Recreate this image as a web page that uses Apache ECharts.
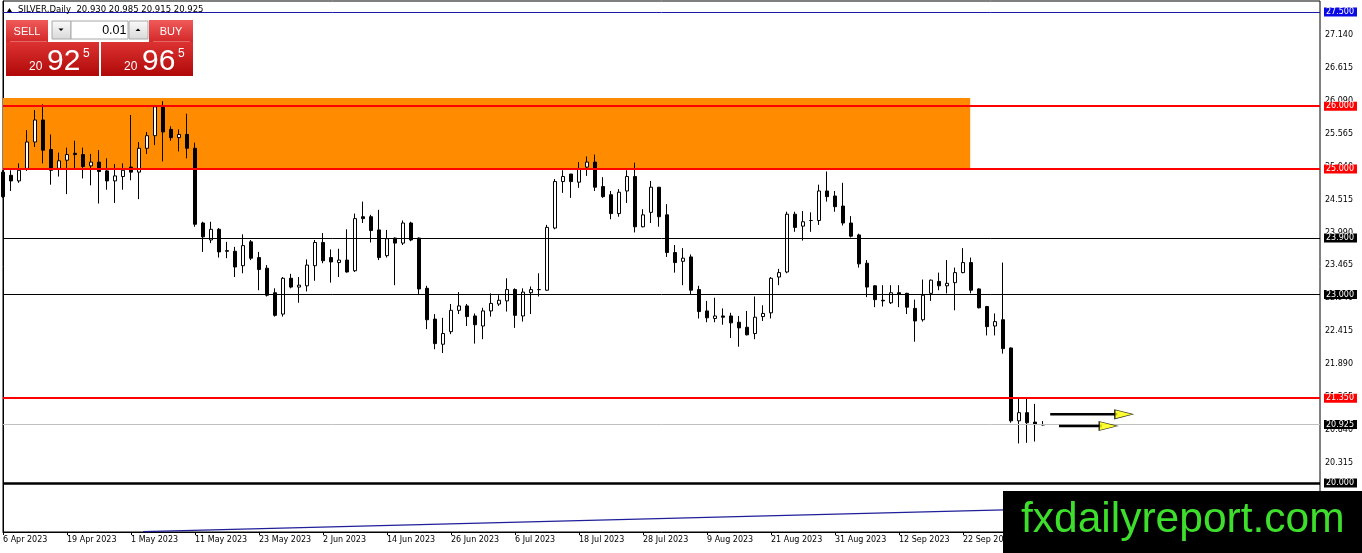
<!DOCTYPE html>
<html>
<head>
<meta charset="utf-8">
<title>SILVER Daily</title>
<script src="https://cdn.jsdelivr.net/npm/echarts@6/dist/echarts.min.js"></script>
<style>
html, body { margin: 0; padding: 0; background: #fff; }
#container { width: 1362px; height: 553px; }
</style>
</head>
<body>
<div id="container"></div>
<script>
var dom = document.getElementById("container");
var myChart = echarts.init(dom, null, { renderer: 'canvas' });

// trading days, one per bar
var dates = [
  '6 Apr 2023', '10 Apr 2023', '11 Apr 2023', '12 Apr 2023', '13 Apr 2023', '14 Apr 2023', '17 Apr 2023', '18 Apr 2023',
  '19 Apr 2023', '20 Apr 2023', '21 Apr 2023', '24 Apr 2023', '25 Apr 2023', '26 Apr 2023', '27 Apr 2023', '28 Apr 2023',
  '1 May 2023', '2 May 2023', '3 May 2023', '4 May 2023', '5 May 2023', '8 May 2023', '9 May 2023', '10 May 2023',
  '11 May 2023', '12 May 2023', '15 May 2023', '16 May 2023', '17 May 2023', '18 May 2023', '19 May 2023', '22 May 2023',
  '23 May 2023', '24 May 2023', '25 May 2023', '26 May 2023', '29 May 2023', '30 May 2023', '31 May 2023', '1 Jun 2023',
  '2 Jun 2023', '5 Jun 2023', '6 Jun 2023', '7 Jun 2023', '8 Jun 2023', '9 Jun 2023', '12 Jun 2023', '13 Jun 2023',
  '14 Jun 2023', '15 Jun 2023', '16 Jun 2023', '19 Jun 2023', '20 Jun 2023', '21 Jun 2023', '22 Jun 2023', '23 Jun 2023',
  '26 Jun 2023', '27 Jun 2023', '28 Jun 2023', '29 Jun 2023', '30 Jun 2023', '3 Jul 2023', '4 Jul 2023', '5 Jul 2023',
  '6 Jul 2023', '7 Jul 2023', '10 Jul 2023', '11 Jul 2023', '12 Jul 2023', '13 Jul 2023', '14 Jul 2023', '17 Jul 2023',
  '18 Jul 2023', '19 Jul 2023', '20 Jul 2023', '21 Jul 2023', '24 Jul 2023', '25 Jul 2023', '26 Jul 2023', '27 Jul 2023',
  '28 Jul 2023', '31 Jul 2023', '1 Aug 2023', '2 Aug 2023', '3 Aug 2023', '4 Aug 2023', '7 Aug 2023', '8 Aug 2023',
  '9 Aug 2023', '10 Aug 2023', '11 Aug 2023', '14 Aug 2023', '15 Aug 2023', '16 Aug 2023', '17 Aug 2023', '18 Aug 2023',
  '21 Aug 2023', '22 Aug 2023', '23 Aug 2023', '24 Aug 2023', '25 Aug 2023', '28 Aug 2023', '29 Aug 2023', '30 Aug 2023',
  '31 Aug 2023', '1 Sep 2023', '4 Sep 2023', '5 Sep 2023', '6 Sep 2023', '7 Sep 2023', '8 Sep 2023', '11 Sep 2023',
  '12 Sep 2023', '13 Sep 2023', '14 Sep 2023', '15 Sep 2023', '18 Sep 2023', '19 Sep 2023', '20 Sep 2023', '21 Sep 2023',
  '22 Sep 2023', '25 Sep 2023', '26 Sep 2023', '27 Sep 2023', '28 Sep 2023', '29 Sep 2023', '2 Oct 2023', '3 Oct 2023',
  '4 Oct 2023', '5 Oct 2023', '6 Oct 2023'
];

var opens = [
  24.95, 24.90, 24.81, 25.01, 25.43, 25.78, 25.31, 25.01, 25.14, 25.25,
  25.23, 25.05, 25.11, 24.97, 24.81, 24.88, 25.03, 24.95, 25.33, 25.53,
  25.99, 25.63, 25.50, 25.55, 25.33, 24.14, 23.87, 24.04, 23.70, 23.69,
  23.46, 23.84, 23.59, 23.42, 23.03, 22.69, 23.26, 23.12, 23.14, 23.46,
  23.83, 23.59, 23.51, 23.55, 23.38, 24.24, 24.24, 24.03, 23.62, 23.90,
  23.82, 24.14, 23.90, 23.10, 22.61, 22.21, 22.41, 22.75, 22.82, 22.66,
  22.50, 22.74, 22.85, 22.90, 23.08, 22.66, 23.03, 23.08, 23.07, 24.06,
  24.80, 24.92, 24.79, 25.03, 25.11, 24.72, 24.59, 24.29, 24.65, 24.88,
  24.08, 24.31, 24.71, 24.27, 23.67, 23.53, 23.60, 23.08, 22.74, 22.62,
  22.66, 22.66, 22.56, 22.48, 22.38, 22.65, 22.71, 23.28, 23.36, 24.28,
  24.09, 24.18, 24.18, 24.65, 24.57, 24.41, 24.14, 23.95, 23.50, 23.14,
  22.91, 22.87, 23.03, 23.02, 22.78, 22.60, 23.02, 23.21, 23.14, 23.19,
  23.35, 23.51, 23.09, 22.81, 22.50, 22.60, 22.15, 20.99, 21.12, 20.97,
  20.930
];

var highs = [
  24.98, 24.98, 25.09, 25.62, 25.94, 26.03, 25.55, 25.26, 25.34, 25.45,
  25.34, 25.24, 25.30, 25.17, 25.08, 25.09, 25.86, 25.43, 25.59, 26.02,
  26.08, 25.68, 25.63, 25.88, 25.42, 24.16, 24.16, 24.06, 23.84, 23.76,
  23.96, 23.87, 23.68, 23.47, 23.10, 23.28, 23.33, 23.28, 23.56, 23.87,
  23.98, 23.72, 23.73, 24.04, 24.29, 24.48, 24.27, 24.35, 24.03, 23.91,
  24.18, 24.16, 23.91, 23.14, 22.69, 22.63, 22.85, 23.04, 22.85, 22.70,
  22.79, 23.02, 22.99, 23.26, 23.10, 23.10, 23.13, 23.34, 24.11, 24.84,
  24.98, 24.92, 25.11, 25.20, 25.23, 24.87, 24.65, 24.68, 24.98, 25.10,
  24.36, 24.81, 24.71, 24.44, 23.79, 23.74, 23.64, 23.14, 22.90, 22.95,
  22.78, 22.71, 22.66, 22.74, 22.97, 22.83, 23.28, 23.41, 24.32, 24.32,
  24.33, 24.31, 24.75, 24.96, 24.65, 24.78, 24.25, 23.97, 23.55, 23.15,
  23.15, 23.15, 23.15, 23.03, 22.92, 23.24, 23.24, 23.35, 23.55, 23.43,
  23.74, 23.59, 23.10, 22.82, 22.70, 23.51, 22.16, 21.35, 21.35, 21.26,
  20.985
];

var lows = [
  24.54, 24.65, 24.78, 24.97, 25.35, 25.09, 24.75, 24.88, 24.60, 25.01,
  24.85, 24.74, 24.45, 24.67, 24.46, 24.67, 24.82, 24.52, 25.24, 25.38,
  25.12, 25.45, 25.28, 25.17, 24.08, 23.68, 23.82, 23.59, 23.58, 23.28,
  23.34, 23.55, 23.07, 22.97, 22.65, 22.65, 23.10, 22.87, 23.05, 23.22,
  23.50, 23.19, 23.28, 23.35, 23.36, 24.14, 23.83, 23.55, 23.59, 23.15,
  23.79, 23.85, 23.01, 22.45, 22.13, 22.07, 22.37, 22.69, 22.50, 22.22,
  22.29, 22.65, 22.82, 22.73, 22.47, 22.57, 22.69, 22.97, 23.06, 24.04,
  24.62, 24.54, 24.70, 24.89, 24.65, 24.54, 24.20, 24.24, 24.46, 23.99,
  24.07, 24.14, 24.08, 23.60, 23.35, 23.15, 23.01, 22.62, 22.56, 22.56,
  22.52, 22.31, 22.17, 22.35, 22.29, 22.58, 22.62, 23.15, 23.34, 24.00,
  23.86, 24.00, 24.11, 24.48, 24.32, 24.10, 23.91, 23.43, 22.96, 22.80,
  22.81, 22.85, 22.80, 22.69, 22.25, 22.57, 22.90, 23.07, 23.02, 22.75,
  23.34, 23.02, 22.78, 22.35, 22.35, 22.06, 20.96, 20.63, 20.64, 20.66,
  20.915
];

var closes = [
  24.56, 24.81, 24.98, 25.43, 25.78, 25.30, 24.98, 25.13, 25.23, 25.23,
  25.04, 25.11, 24.96, 24.81, 24.89, 24.98, 24.95, 25.33, 25.53, 25.99,
  25.59, 25.50, 25.55, 25.33, 24.12, 23.92, 24.04, 23.68, 23.69, 23.44,
  23.78, 23.58, 23.40, 22.99, 22.67, 23.26, 23.12, 23.15, 23.47, 23.83,
  23.54, 23.52, 23.55, 23.36, 24.21, 24.21, 24.02, 23.59, 23.89, 23.82,
  24.14, 23.87, 23.09, 22.60, 22.22, 22.38, 22.75, 22.82, 22.65, 22.52,
  22.74, 22.86, 22.91, 23.08, 22.67, 23.04, 23.08, 23.08, 24.07, 24.80,
  24.88, 24.80, 25.00, 25.11, 24.71, 24.56, 24.29, 24.63, 24.88, 24.08,
  24.27, 24.71, 24.24, 23.67, 23.51, 23.58, 23.07, 22.73, 22.63, 22.66,
  22.64, 22.55, 22.47, 22.36, 22.64, 22.70, 23.26, 23.35, 24.28, 24.07,
  24.16, 24.18, 24.65, 24.56, 24.40, 24.14, 23.93, 23.49, 23.12, 22.92,
  22.90, 23.03, 23.01, 22.80, 22.58, 22.99, 23.23, 23.14, 23.18, 23.35,
  23.51, 23.07, 22.79, 22.49, 22.57, 22.14, 20.99, 21.12, 20.96, 20.93,
  20.925
];

// price scale tick labels
var yTicks = [19.790, 20.315, 20.840, 21.365, 21.890, 22.415, 22.940, 23.465,
  23.990, 24.515, 25.040, 25.565, 26.090, 26.615, 27.140];

// horizontal levels drawn on the chart
var levels = [27.500, 26.000, 25.000, 23.900, 23.000, 21.350, 20.925, 20.000];

// orange supply zone (bar index range, price range)
var zoneBars = [0, 120.9];
var zonePrices = [25.0, 26.13];

// blue trend line
var trendBars = [17.5, 140];
var trendPrices = [19.225, 19.62];

// two arrows to the right of the last bar
var arrowStartBars = [130.9, 132.0];
var arrowTipBars = [141.2, 139.25];
var arrowPrices = [21.094, 20.908];

var symbolName = 'SILVER,Daily';
var bid = 20.925;
var ask = 20.965;

// ---------- build ----------
var last = opens.length - 1;
var candles = opens.map(function (o, i) { return [i, o, closes[i], lows[i], highs[i]]; });

var levelStyle = {
  '27.500': { line: '#1a1aa6', bg: '#0a0ae6', w: 1 },
  '26.000': { line: '#ff0000', bg: '#ff0000', w: 2 },
  '25.000': { line: '#ff0000', bg: '#ff0000', w: 2 },
  '23.900': { line: '#000000', bg: '#000000', w: 1 },
  '23.000': { line: '#000000', bg: '#000000', w: 1 },
  '21.350': { line: '#ff0000', bg: '#ff0000', w: 2 },
  '20.925': { line: '#c0c0c0', bg: '#000000', w: 1 },
  '20.000': { line: '#000000', bg: '#000000', w: 2.5 }
};

var axisFont = 'DejaVu Sans';

var arrowSeries = [];
arrowStartBars.forEach(function (x0, i) {
  var baseX = arrowTipBars[i] - 2.2;
  arrowSeries.push({
    type: 'line',
    data: [[x0, arrowPrices[i]], [baseX + 0.3, arrowPrices[i]]],
    symbol: 'none',
    lineStyle: { color: '#000', width: 2.5 },
    z: 6,
    silent: true
  });
  arrowSeries.push({
    type: 'scatter',
    data: [[arrowTipBars[i] - 1.1, arrowPrices[i]]],
    symbol: 'triangle',
    symbolSize: [9, 18],
    symbolRotate: -90,
    itemStyle: { color: '#ffff00', borderColor: '#000', borderWidth: 1 },
    z: 7,
    silent: true
  });
});

function grad(c0, c1) {
  return new echarts.graphic.LinearGradient(0, 0, 0, 1, [
    { offset: 0, color: c0 }, { offset: 1, color: c1 }
  ]);
}
function rect(x, y, w, h, fill, stroke) {
  return { type: 'rect', z: 100, silent: true, shape: { x: x, y: y, width: w, height: h },
    style: { fill: fill, stroke: stroke || null, lineWidth: 1 } };
}
function label(x, y, s, font, color, align) {
  return { type: 'text', z: 101, silent: true, x: x, y: y,
    style: { text: s, font: font, fill: color, textAlign: align || 'left', textVerticalAlign: 'middle' } };
}
function tri(points, fill) {
  return { type: 'polygon', z: 101, silent: true, shape: { points: points }, style: { fill: fill } };
}

function priceParts(p) {
  var s = p.toFixed(3);
  return [s.slice(0, 2), s.slice(3, 5), s.slice(5)];
}
var bp = priceParts(bid);
var ap = priceParts(ask);
var header = symbolName + '  ' + [opens[last], highs[last], lows[last], closes[last]]
  .map(function (v) { return v.toFixed(3); }).join(' ');

var graphics = [
  // header
  tri([[7, 12], [12, 12], [9.5, 8]], '#000'),
  label(18, 9.6, header, '8.5px "DejaVu Sans"', '#000'),
  // one click trading panel
  rect(6, 20, 42, 22, grad('#f05a5a', '#d32828')),
  rect(149, 20, 44, 22, grad('#f05a5a', '#d32828')),
  rect(6, 42, 93, 34, grad('#dc3232', '#b00808')),
  rect(101, 42, 92, 34, grad('#dc3232', '#b00808')),
  rect(10, 41.5, 37, 0.6, 'rgba(255,220,220,0.7)'),
  rect(153, 41.5, 37, 0.6, 'rgba(255,220,220,0.7)'),
  rect(52, 21, 19, 18, grad('#fbfbfb', '#d8d8d8'), '#a8a8a8'),
  rect(71, 21, 57, 18, '#ffffff', '#a8a8a8'),
  rect(129, 21, 19, 18, grad('#fbfbfb', '#d8d8d8'), '#a8a8a8'),
  tri([[58.5, 28.5], [63.5, 28.5], [61, 31]], '#000'),
  tri([[135.5, 31], [140.5, 31], [138, 28.5]], '#000'),
  label(126.5, 30.5, '0.01', '12.5px "Liberation Sans"', '#000', 'right'),
  label(27, 31.5, 'SELL', '11px "Liberation Sans"', '#fff', 'center'),
  label(171, 31.5, 'BUY', '11px "Liberation Sans"', '#fff', 'center'),
  label(29, 66.3, bp[0], '12px "Liberation Sans"', '#fff'),
  label(47, 61.7, bp[1], '30px "Liberation Sans"', '#fff'),
  label(83, 54, bp[2], '12px "Liberation Sans"', '#fff'),
  label(124, 66.3, ap[0], '12px "Liberation Sans"', '#fff'),
  label(142, 61.7, ap[1], '30px "Liberation Sans"', '#fff'),
  label(178, 54, ap[2], '12px "Liberation Sans"', '#fff'),
  // watermark
  rect(1003, 491, 359, 62, '#000'),
  label(1021, 520, 'fxdailyreport.com', '42.5px "Liberation Sans"', '#3ede2c')
];

var option = {
  animation: false,
  backgroundColor: '#ffffff',
  grid: {
    left: 3, right: 42, top: 1, bottom: 21,
    show: true, borderColor: '#000', borderWidth: 1,
    outerBoundsMode: 'none'
  },
  xAxis: {
    type: 'value',
    min: 0,
    max: 164.625,
    interval: 8,
    axisLine: { show: true, lineStyle: { color: '#000', width: 1 } },
    axisTick: { show: true, length: 3, lineStyle: { color: '#000' } },
    axisLabel: {
      align: 'left', margin: 4, color: '#000',
      fontFamily: axisFont, fontSize: 8,
      showMaxLabel: false,
      formatter: function (v) { return dates[v] || ''; }
    },
    splitLine: { show: false }
  },
  yAxis: {
    type: 'value',
    position: 'right',
    min: 19.22,
    max: 27.675,
    axisLine: { show: true, lineStyle: { color: '#000', width: 1 } },
    axisTick: { show: false },
    axisLabel: {
      customValues: yTicks, margin: 5, color: '#000',
      fontFamily: axisFont, fontSize: 8,
      formatter: function (v) { return v.toFixed(3); }
    },
    splitLine: { show: false },
    splitArea: { show: false }
  },
  series: [{
    type: 'candlestick',
    data: candles,
    encode: { x: 0, y: [1, 2, 3, 4] },
    barWidth: 4,
    clip: true,
    itemStyle: {
      color: '#ffffff', color0: '#000000',
      borderColor: '#000000', borderColor0: '#000000', borderColorDoji: '#000000',
      borderWidth: 1
    },
    markArea: {
      silent: true,
      itemStyle: { color: '#ff8c00' },
      data: [[
        { xAxis: zoneBars[0], yAxis: zonePrices[1] },
        { xAxis: zoneBars[1], yAxis: zonePrices[0] }
      ]]
    },
    markLine: {
      silent: true,
      symbol: ['none', 'none'],
      data: levels.map(function (v) {
        var st = levelStyle[v.toFixed(3)];
        return {
          yAxis: v,
          lineStyle: { color: st.line, width: st.w, type: 'solid' },
          label: {
            show: true, position: 'end', distance: 4,
            formatter: v.toFixed(3),
            backgroundColor: st.bg, color: '#fff',
            fontFamily: axisFont, fontSize: 8,
            padding: [1, 3, 0, 2]
          }
        };
      })
    }
  }, {
    type: 'line',
    data: trendBars.map(function (x, i) { return [x, trendPrices[i]]; }),
    symbol: 'none',
    lineStyle: { color: '#1f1f99', width: 1.3 },
    silent: true,
    z: 3
  }].concat(arrowSeries),
  graphic: { elements: graphics }
};

if (option && typeof option === 'object') {
  myChart.setOption(option);
}
</script>
</body>
</html>
